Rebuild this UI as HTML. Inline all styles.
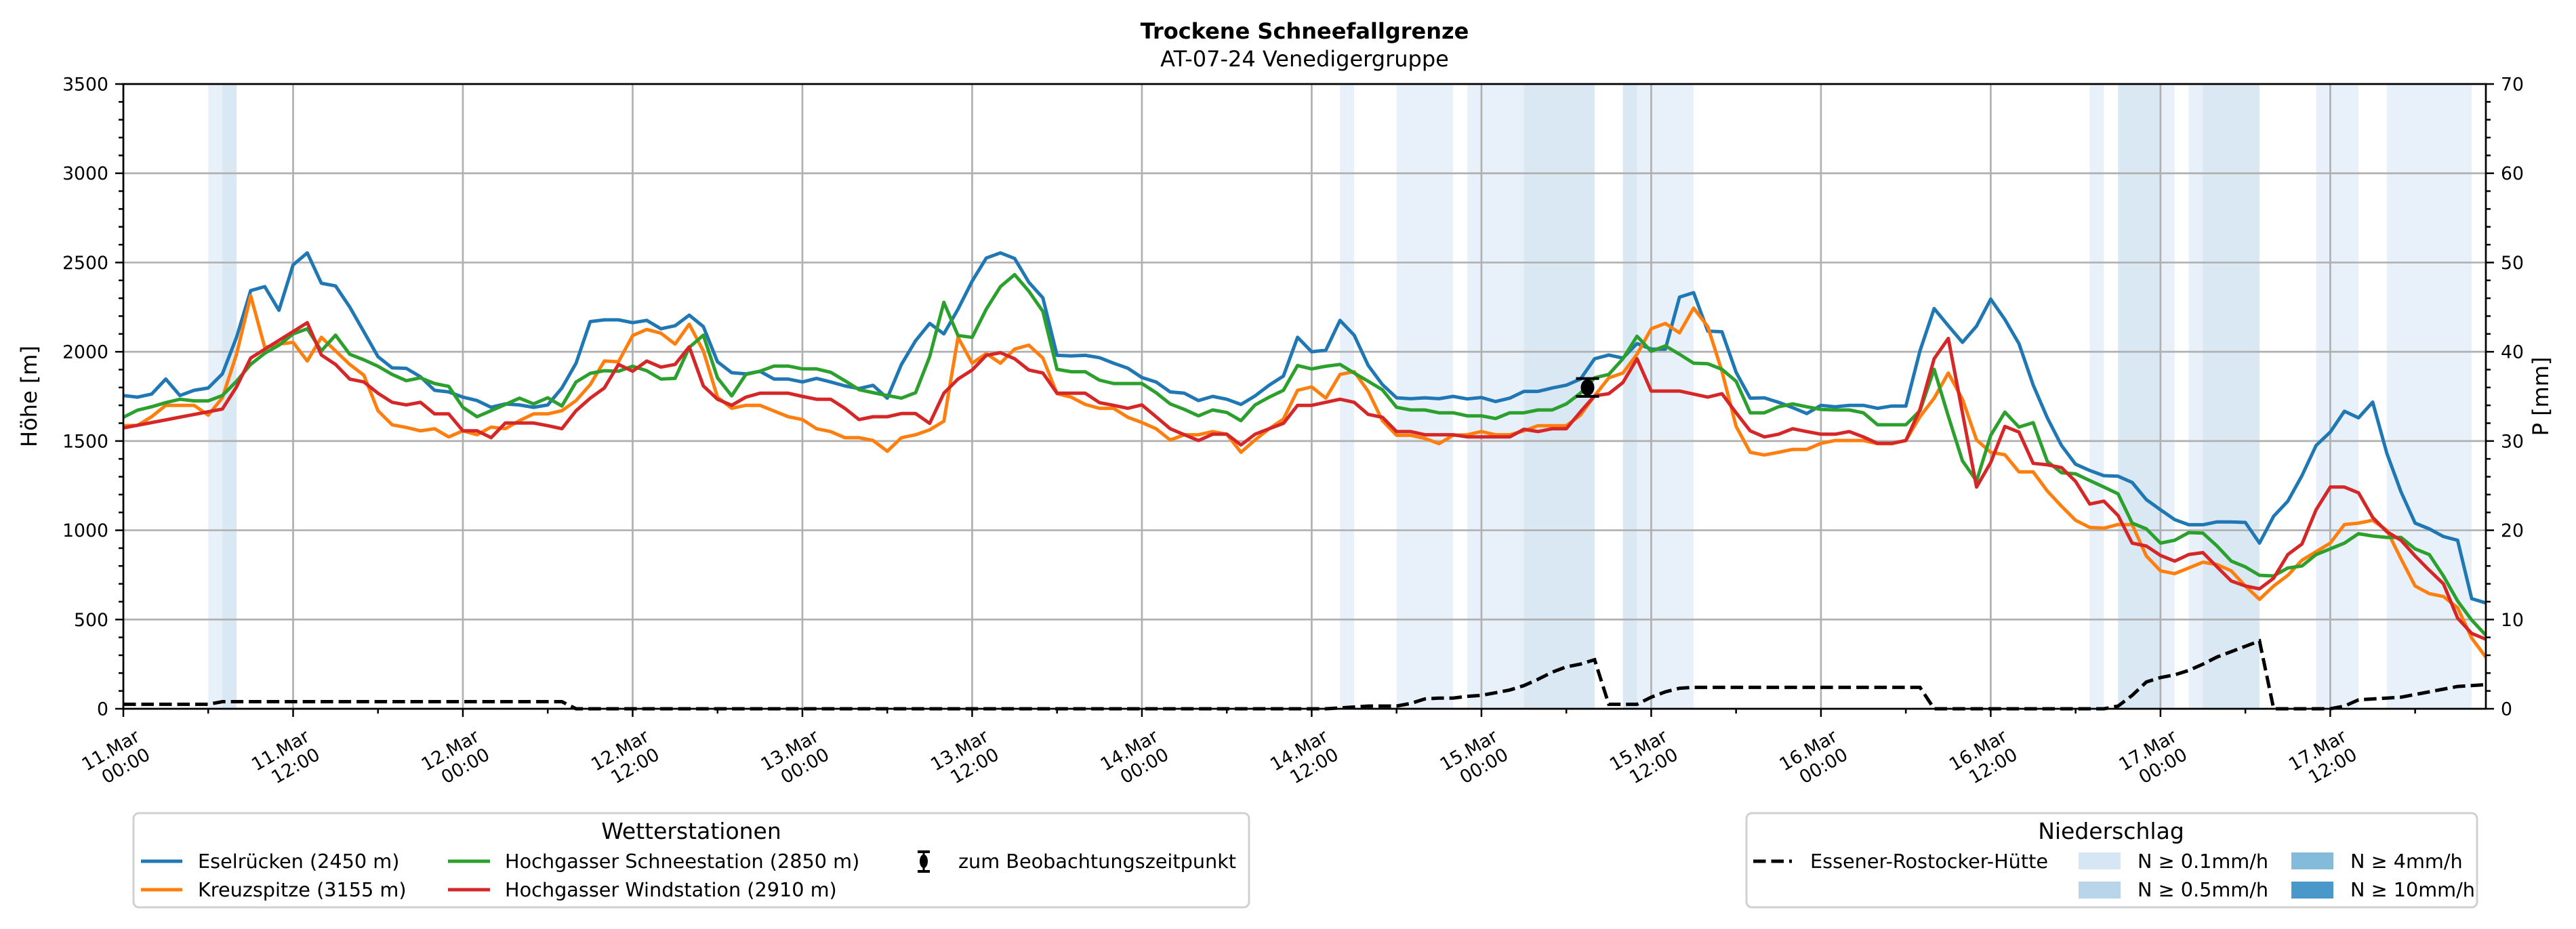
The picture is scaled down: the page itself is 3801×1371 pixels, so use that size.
<!DOCTYPE html>
<html><head><meta charset="utf-8"><style>
html,body{margin:0;padding:0;background:#fff;}
svg{display:block;font-family:"DejaVu Sans","Liberation Sans",sans-serif;}
</style></head><body>
<svg id="chart" width="3801" height="1371" viewBox="0 0 3801 1371" xmlns="http://www.w3.org/2000/svg">
<rect x="0" y="0" width="3801" height="1371" fill="#fff"/>
<text x="1925" y="57" text-anchor="middle" font-size="32" font-weight="bold">Trockene Schneefallgrenze</text>
<text x="1925" y="98" text-anchor="middle" font-size="32">AT-07-24 Venedigergruppe</text>
<g id="bands"></g>
<g id="grid"></g>
<g id="series"></g>
<g id="axes"></g>
<text transform="translate(54,585) rotate(-90)" text-anchor="middle" font-size="32">Höhe [m]</text>
<text transform="translate(3760,585) rotate(-90)" text-anchor="middle" font-size="32">P [mm]</text>

<g>
<rect x="197" y="1200" width="1646" height="139" rx="8" fill="#fff" stroke="#d0d0d0" stroke-width="3"/>
<text x="1020" y="1238" text-anchor="middle" font-size="33">Wetterstationen</text>
<g><line x1="208" y1="1271" x2="269" y2="1271" stroke="#1f77b4" stroke-width="5"/><text x="292" y="1281" font-size="28.7">Eselrücken (2450 m)</text></g>
<g><line x1="208" y1="1313" x2="269" y2="1313" stroke="#ff7f0e" stroke-width="5"/><text x="292" y="1323" font-size="28.7">Kreuzspitze (3155 m)</text></g>
<g><line x1="661" y1="1271" x2="723" y2="1271" stroke="#2ca02c" stroke-width="5"/><text x="745" y="1281" font-size="28.7">Hochgasser Schneestation (2850 m)</text></g>
<g><line x1="661" y1="1313" x2="723" y2="1313" stroke="#d62728" stroke-width="5"/><text x="745" y="1323" font-size="28.7">Hochgasser Windstation (2910 m)</text></g>
<g><line x1="1363" y1="1257" x2="1363" y2="1286" stroke="#000" stroke-width="3"/><line x1="1354" y1="1257" x2="1372" y2="1257" stroke="#000" stroke-width="4"/><line x1="1354" y1="1286" x2="1372" y2="1286" stroke="#000" stroke-width="4"/><ellipse cx="1363" cy="1271" rx="6" ry="10" fill="#000"/><text x="1414" y="1281" font-size="28.7">zum Beobachtungszeitpunkt</text></g>
</g>

<g>
<rect x="2577" y="1200" width="1078" height="139" rx="8" fill="#fff" stroke="#d0d0d0" stroke-width="3"/>
<text x="3115" y="1238" text-anchor="middle" font-size="33">Niederschlag</text>
<g><line x1="2587" y1="1271" x2="2644" y2="1271" stroke="#000" stroke-width="5" stroke-dasharray="18.5 8"/><text x="2671" y="1281" font-size="28.7">Essener-Rostocker-Hütte</text></g>
<g><rect x="3067" y="1258" width="62" height="25" fill="#d6e6f4"/><text x="3154" y="1281" font-size="28.7">N ≥ 0.1mm/h</text></g>
<g><rect x="3067" y="1301" width="62" height="25" fill="#b9d5ea"/><text x="3154" y="1323" font-size="28.7">N ≥ 0.5mm/h</text></g>
<g><rect x="3381" y="1258" width="62" height="25" fill="#84bbdb"/><text x="3468" y="1281" font-size="28.7">N ≥ 4mm/h</text></g>
<g><rect x="3381" y="1301" width="62" height="25" fill="#4a98c9"/><text x="3468" y="1323" font-size="28.7">N ≥ 10mm/h</text></g>
</g>
</svg>
<script>
const hours = 168;
const eselruecken = [1755,1746,1763,1847,1755,1784,1797,1876,2081,2343,2365,2232,2487,2554,2384,2369,2251,2112,1973,1910,1907,1860,1784,1775,1746,1727,1689,1708,1702,1689,1702,1797,1936,2169,
2179,2179,2163,2176,2129,2146,2205,2141,1944,1883,1876,1891,1847,1847,1831,1851,1831,1809,1794,1812,1740,1929,2062,2159,2100,2239,2396,2525,2554,2523,2390,2302,1980,
1977,1980,1967,1936,1908,1856,1831,1775,1768,1727,1750,1734,1705,1753,1813,1864,2081,2000,2009,2176,2093,1923,1816,1742,1737,1742,1737,1750,1736,1744,1721,1740,1778,
1778,1797,1813,1847,1961,1982,1965,2046,2015,2015,2306,2331,2116,2112,1885,1740,1742,1717,1687,1654,1700,1692,1700,1700,1683,1696,1696,2005,2242,2146,2053,2144,2295,
2181,2045,1814,1630,1475,1370,1335,1306,1303,1268,1172,1115,1060,1031,1031,1047,1047,1044,928,1079,1163,1306,1475,1550,1667,1630,1718,1431,1215,1040,1008,965,944,617,593];
const kreuzspitze = [1586,1588,1636,1700,1700,1700,1645,1742,1986,2314,2024,2043,2053,1948,2081,2005,1929,1869,1670,1591,1576,1557,1569,1523,1557,1535,1578,1569,1614,1652,1652,1670,1727,1816,
1948,1944,2091,2125,2104,2043,2154,2005,1746,1683,1700,1700,1668,1636,1620,1569,1553,1519,1519,1503,1443,1519,1535,1563,1611,2081,1936,1990,1936,2015,2037,1965,1765,
1746,1705,1683,1683,1633,1604,1569,1506,1535,1535,1553,1538,1437,1506,1569,1623,1784,1803,1740,1873,1889,1778,1614,1532,1532,1515,1485,1532,1535,1553,1535,1535,1557,
1586,1586,1586,1645,1753,1854,1881,1986,2129,2159,2106,2245,2141,1891,1582,1437,1422,1437,1453,1453,1487,1503,1503,1503,1485,1485,1503,1636,1740,1881,1734,1506,1437,
1423,1327,1327,1220,1135,1056,1016,1012,1032,1032,856,773,757,789,821,808,773,688,613,688,748,832,880,928,1032,1040,1056,1000,840,688,645,629,566,396,289];
const schneestation = [1633,1673,1692,1715,1734,1725,1725,1755,1835,1929,1992,2037,2100,2129,2005,2093,1986,1955,1919,1873,1838,1854,1822,1806,1689,1636,1670,1705,1740,1708,1742,1696,1831,1879,
1894,1891,1919,1894,1847,1851,2024,2093,1854,1753,1873,1891,1920,1920,1904,1904,1885,1838,1788,1771,1755,1740,1771,1973,2277,2091,2081,2239,2365,2432,2340,2226,1902,
1888,1888,1841,1822,1822,1822,1771,1708,1677,1641,1674,1660,1614,1702,1746,1784,1923,1904,1919,1929,1881,1835,1787,1689,1674,1674,1658,1658,1641,1641,1626,1658,1658,
1674,1674,1708,1768,1854,1873,1961,2087,2003,2033,1986,1936,1933,1902,1835,1658,1658,1692,1708,1692,1677,1674,1674,1658,1591,1591,1591,1670,1902,1639,1389,1276,1532,
1662,1578,1603,1386,1322,1316,1279,1242,1204,1040,1008,928,944,987,984,912,827,795,748,744,789,800,864,896,928,981,968,960,960,896,864,744,604,497,412];
const windstation = [1573,null,null,null,null,null,null,1679,1803,1965,null,null,null,2163,1982,1929,1847,1831,1768,1717,1702,1717,1652,1652,1557,1557,1519,1601,1601,1601,1586,1569,1670,1740,
1797,1929,1891,1948,1914,1929,2028,1809,1734,1700,1746,1768,1768,1768,1750,1734,1734,1683,1620,1636,1636,1654,1654,1599,1768,1847,1898,1980,1995,1961,1898,1881,1768,
1768,1768,1715,1700,1683,1702,1636,1569,1535,1503,1538,1538,1478,1538,1569,1599,1700,1700,1717,1734,1717,1649,1633,1553,1553,1535,1535,1535,1523,1523,1523,1523,1566,
1553,1569,1569,1664,1753,1765,1828,1961,1780,1780,1780,1763,1746,1765,1658,1557,1523,1538,1569,1553,1538,1538,1553,1523,1487,1487,1503,1677,1961,2075,null,1242,1380,
1582,1550,1375,1367,1351,1274,1147,1163,1083,928,912,859,827,864,875,795,716,688,672,732,864,923,1115,1242,1242,1210,1072,992,944,856,776,700,508,422,390];
const precipSum = [0.5,0.5,0.5,0.5,0.5,0.5,0.5,
0.8,0.8,0.8,0.8,0.8,0.8,0.8,0.8,0.8,0.8,0.8,0.8,0.8,0.8,0.8,0.8,0.8,0.8,0.8,0.8,0.8,0.8,0.8,0.8,0.8,
0,0,0,0,0,0,0,0,0,0,0,0,0,0,0,0,0,0,0,0,0,0,0,0,0,0,0,0,0,0,0,0,0,0,0,0,0,0,0,0,0,0,0,0,0,0,0,0,0,0,0,0,0,0,
0.1,0.2,0.3,0.3,0.3,0.6,1.1,1.2,1.2,1.4,1.5,1.8,2.1,2.6,3.3,4.1,4.7,5.0,5.5,0.5,0.5,0.5,1.3,1.9,2.3,2.4,
2.4,2.4,2.4,2.4,2.4,2.4,2.4,2.4,2.4,2.4,2.4,2.4,2.4,2.4,2.4,2.4,
0,0,0,0,0,0,0,0,0,0,0,0,0,
0.3,1.5,3.0,3.5,3.8,4.3,5.0,5.8,6.4,7.0,7.6,
0,0,0,0,0,
0.3,1.0,1.1,1.2,1.3,1.6,1.9,2.2,2.5,2.6,2.7];
const bandStart = [6,7,86,90,95,99,106,107,139,141,144,146,147,155,160];
const bandEnd   = [7,8,87,94,99,104,107,111,140,144,145,147,151,158,166];
const bandLevel = [1,2,1,1,1,2,2,1,1,2,1,1,2,1,1];
const obsHour = 103.5, obsValue = 1800, obsErr = 50;
const yTicksLeft = [0,500,1000,1500,2000,2500,3000,3500];
const yTicksRight = [0,10,20,30,40,50,60,70];
const xTickHours = [0,12,24,36,48,60,72,84,96,108,120,132,144,156];
const xTickLine1 = ["11.Mar","11.Mar","12.Mar","12.Mar","13.Mar","13.Mar","14.Mar","14.Mar","15.Mar","15.Mar","16.Mar","16.Mar","17.Mar","17.Mar"];
const xTickLine2 = ["00:00","12:00","00:00","12:00","00:00","12:00","00:00","12:00","00:00","12:00","00:00","12:00","00:00","12:00"];

const L=182,R=3668,T=124,B=1046, XMAX=167, YMAX=3500, PMAX=70;
const xs=h=>L+h*(R-L)/XMAX, yl=v=>B-v*(B-T)/YMAX, yr=p=>B-p*(B-T)/PMAX;
const NS="http://www.w3.org/2000/svg";
function mk(tag,attrs,parent){const e=document.createElementNS(NS,tag);for(const k in attrs)e.setAttribute(k,attrs[k]);parent.appendChild(e);return e;}
const gB=document.getElementById('bands'),gG=document.getElementById('grid'),gS=document.getElementById('series'),gA=document.getElementById('axes');

for(let i=0;i<bandStart.length;i++){
  const r=mk('rect',{x:xs(bandStart[i]),y:T,width:xs(bandEnd[i])-xs(bandStart[i]),height:B-T,fill:bandLevel[i]===2?'#b9d5ea':'#d6e6f4','fill-opacity':0.55},gB);
  
  
}
yTicksLeft.forEach(v=>{const l=mk('line',{x1:L,x2:R,y1:yl(v),y2:yl(v),stroke:'#b0b0b0','stroke-width':2.7},gG);
  
  });
xTickHours.forEach(h=>{const l=mk('line',{x1:xs(h),x2:xs(h),y1:T,y2:B,stroke:'#b0b0b0','stroke-width':2.7},gG);
  
  });

function pathFor(arr,fy){let d='';arr.forEach((v,i)=>{if(v===null||v===undefined)return;d+=(d?'L':'M')+xs(i).toFixed(1)+','+fy(v).toFixed(1);});return d;}
const pp=mk('path',{d:pathFor(precipSum,yr),fill:'none',stroke:'#000','stroke-width':5,'stroke-dasharray':'18.5 8'},gS);


[[eselruecken,'#1f77b4','line-eselruecken'],[kreuzspitze,'#ff7f0e','line-kreuzspitze'],[schneestation,'#2ca02c','line-schneestation'],[windstation,'#d62728','line-windstation']].forEach(s=>{
  const p=mk('path',{d:pathFor(s[0],yl),fill:'none',stroke:s[1],'stroke-width':5,'stroke-linejoin':'round'},gS);
  
  
});
const ob=mk('g',{},gS);


const ox=xs(obsHour);
mk('line',{x1:ox,x2:ox,y1:yl(obsValue+obsErr),y2:yl(obsValue-obsErr),stroke:'#000','stroke-width':3},ob);
mk('line',{x1:ox-17,x2:ox+17,y1:yl(obsValue+obsErr),y2:yl(obsValue+obsErr),stroke:'#000','stroke-width':4},ob);
mk('line',{x1:ox-17,x2:ox+17,y1:yl(obsValue-obsErr),y2:yl(obsValue-obsErr),stroke:'#000','stroke-width':4},ob);
mk('ellipse',{cx:ox,cy:yl(obsValue),rx:10,ry:12,fill:'#000'},ob);

const fr=mk('rect',{x:L,y:T,width:R-L,height:B-T,fill:'none',stroke:'#000','stroke-width':2.7},gA);


for(let v=0;v<=YMAX;v+=100){const maj=v%500===0;mk('line',{x1:L,x2:L-(maj?12:7),y1:yl(v),y2:yl(v),stroke:'#000','stroke-width':2.5},gA);}
yTicksLeft.forEach(v=>{const t=mk('text',{x:L-22,y:yl(v)+9.5,'text-anchor':'end','font-size':26.7},gA);t.textContent=v;
  
  });
for(let p=0;p<=PMAX;p+=2){const maj=p%10===0;mk('line',{x1:R,x2:R+(maj?12:7),y1:yr(p),y2:yr(p),stroke:'#000','stroke-width':2.5},gA);}
yTicksRight.forEach(p=>{const t=mk('text',{x:R+22,y:yr(p)+9.5,'text-anchor':'start','font-size':26.7},gA);t.textContent=p;
  
  });
for(let h=0;h<=XMAX;h+=6){const maj=h%12===0;mk('line',{x1:xs(h),x2:xs(h),y1:B,y2:B+(maj?12:7),stroke:'#000','stroke-width':2.5},gA);}
xTickHours.forEach((h,i)=>{
  const g=mk('g',{transform:`translate(${xs(h)+26},1092) rotate(-30)`},gA);
  
  
  const a=mk('text',{x:0,y:0,'text-anchor':'end','font-size':26.7},g);a.textContent=xTickLine1[i];
  const b=mk('text',{x:0,y:31,'text-anchor':'end','font-size':26.7},g);b.textContent=xTickLine2[i];
});
</script>
</body></html>
